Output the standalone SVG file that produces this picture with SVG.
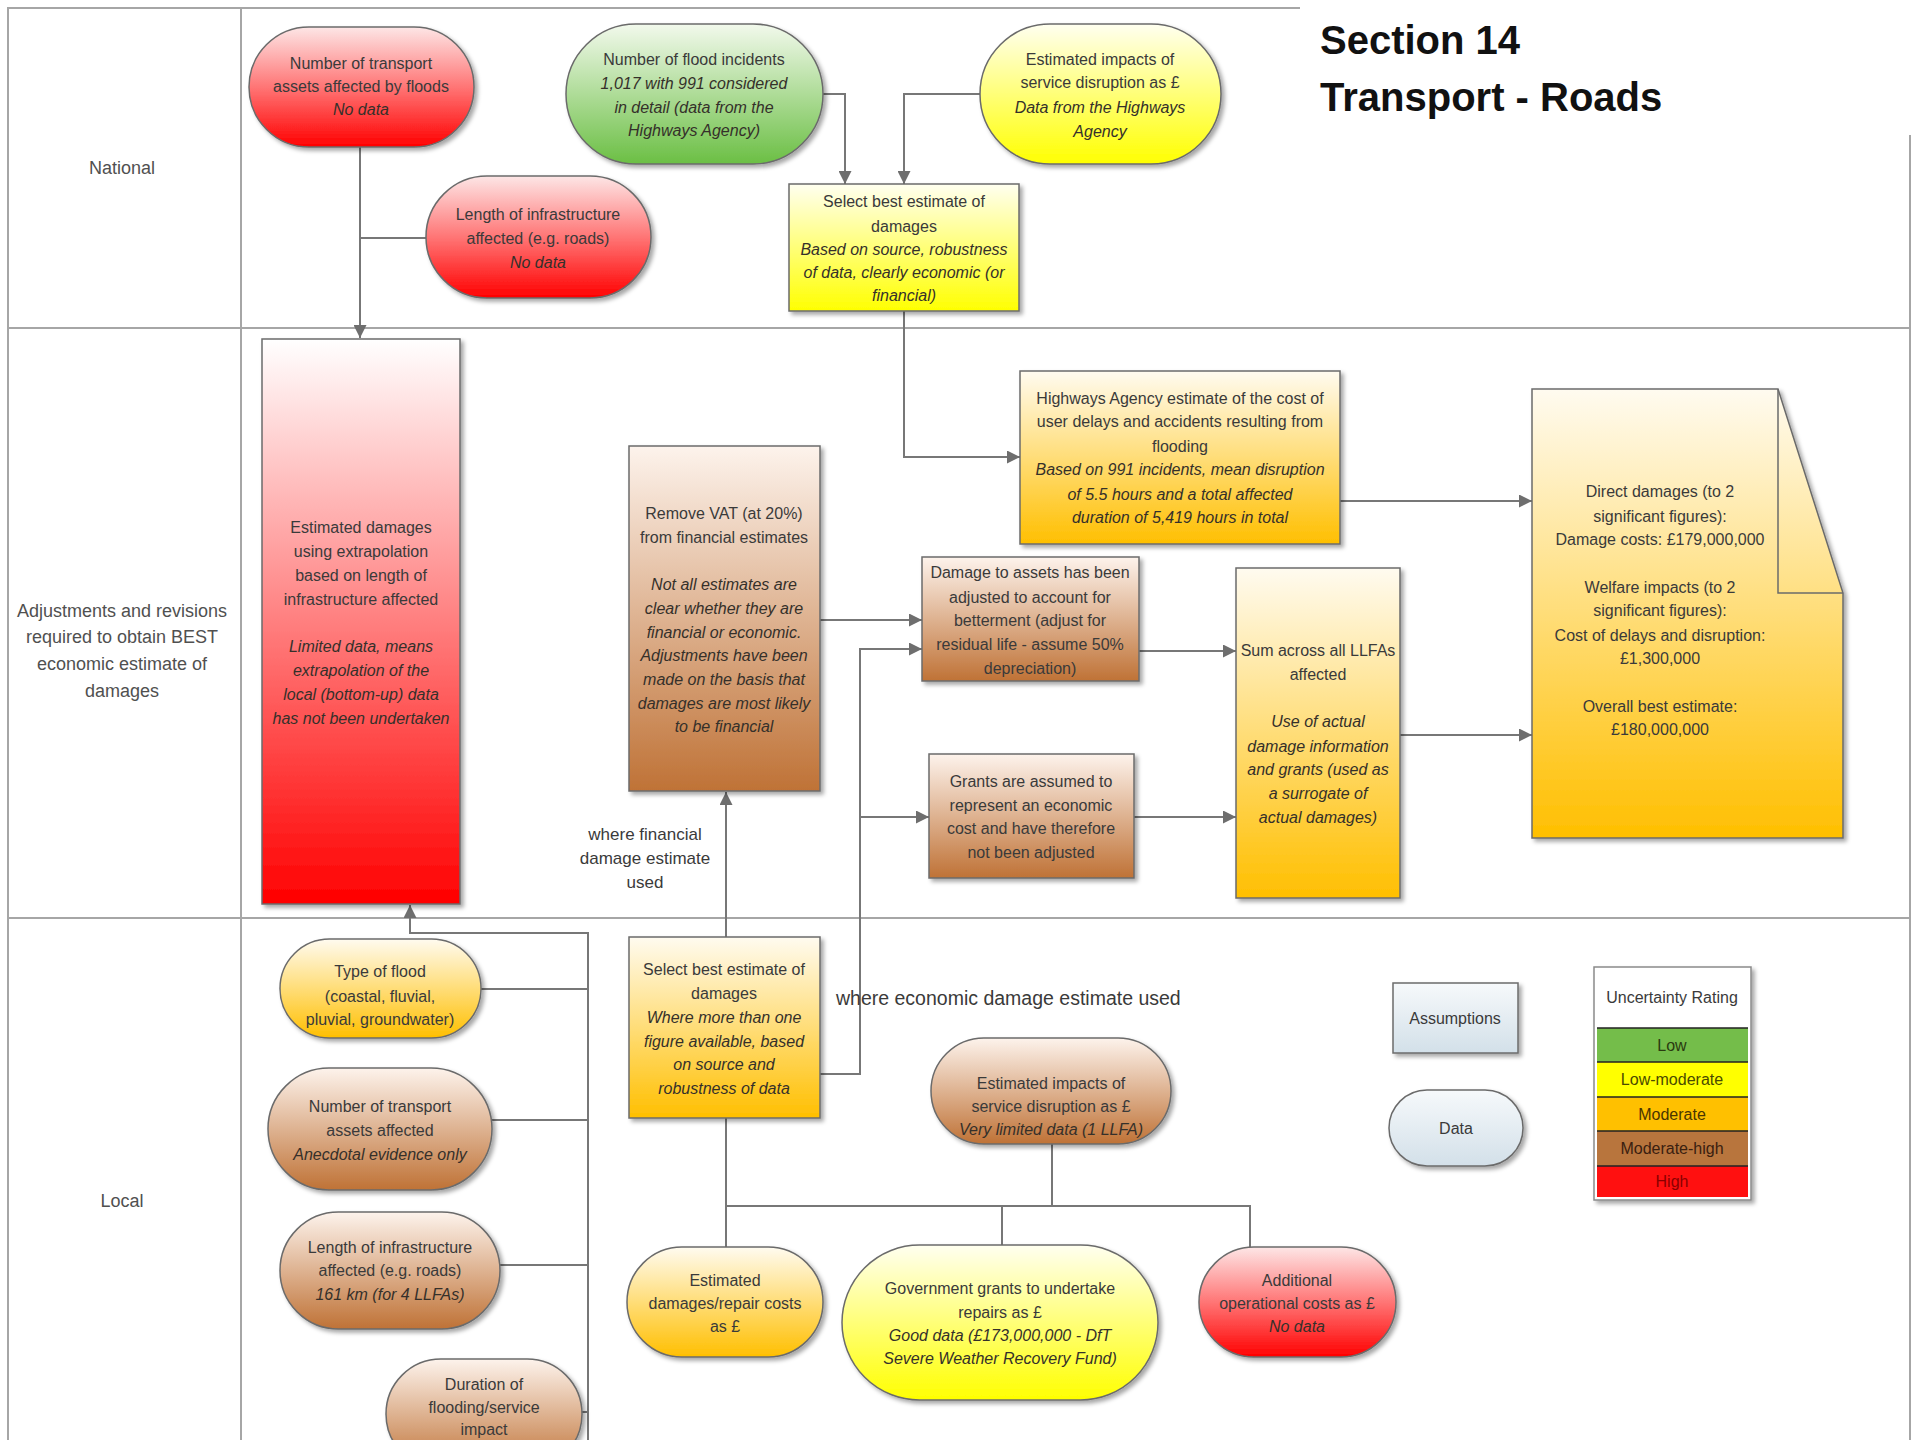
<svg xmlns="http://www.w3.org/2000/svg" width="1920" height="1440" viewBox="0 0 1920 1440">
<style>
.t{font-family:"Liberation Sans",Arial,sans-serif;font-size:16px;fill:#3a3a3a;text-anchor:middle}
.i{font-style:italic;fill:#35302a}
.lbl{font-family:"Liberation Sans",Arial,sans-serif;font-size:18px;fill:#505050;text-anchor:middle}
.node{stroke:#6b6b6b;stroke-width:1.5;filter:url(#sh)}
.red{fill:url(#gRed)}
.tall{fill:url(#gTall)}
.green{fill:url(#gGreen)}
.yellow{fill:url(#gYellow)}
.orange{fill:url(#gOrange)}
.brown{fill:url(#gBrown)}
.leg{fill:url(#gLeg)}
.conn{fill:none;stroke:#777;stroke-width:2}
.arr{marker-end:url(#ah)}
.lane{fill:none;stroke:#a6a6a6;stroke-width:2}
.title{font-family:"Liberation Sans",Arial,sans-serif;font-size:40px;font-weight:bold;fill:#111}
</style>
<defs>
<filter id="sh" x="-10%" y="-10%" width="130%" height="130%">
<feDropShadow dx="3" dy="3" stdDeviation="2" flood-color="#000" flood-opacity="0.35"/>
</filter>
<linearGradient id="gRed" x1="0" y1="0" x2="0" y2="1"><stop offset="0" stop-color="#fde6e6"/><stop offset="0.55" stop-color="#ff6a6a"/><stop offset="1" stop-color="#ff0000"/></linearGradient>
<linearGradient id="gTall" x1="0" y1="0" x2="0" y2="1"><stop offset="0" stop-color="#ffffff"/><stop offset="0.5" stop-color="#ff7f7f"/><stop offset="1" stop-color="#ff0000"/></linearGradient>
<linearGradient id="gGreen" x1="0" y1="0" x2="0" y2="1"><stop offset="0" stop-color="#f2f9ec"/><stop offset="1" stop-color="#6bbf44"/></linearGradient>
<linearGradient id="gYellow" x1="0" y1="0" x2="0" y2="1"><stop offset="0" stop-color="#fffff0"/><stop offset="1" stop-color="#ffff00"/></linearGradient>
<linearGradient id="gOrange" x1="0" y1="0" x2="0" y2="1"><stop offset="0" stop-color="#fffbf0"/><stop offset="1" stop-color="#ffbf00"/></linearGradient>
<linearGradient id="gBrown" x1="0" y1="0" x2="0" y2="1"><stop offset="0" stop-color="#fdf3ec"/><stop offset="1" stop-color="#bf7236"/></linearGradient>
<linearGradient id="gLeg" x1="0" y1="0" x2="0" y2="1"><stop offset="0" stop-color="#f6f9fb"/><stop offset="1" stop-color="#d3e0e9"/></linearGradient>
<marker id="ah" viewBox="0 0 12 12" refX="12" refY="6" markerWidth="13" markerHeight="13" markerUnits="userSpaceOnUse" orient="auto">
<path d="M0,0 L12,6 L0,12 Z" fill="#6e6e6e"/>
</marker>
</defs>
<rect width="1920" height="1440" fill="#ffffff"/>

<g id="lanes">
<path class="lane" d="M8,1440 V8 H1300"/>
<path class="lane" d="M241,8 V1440"/>
<path class="lane" d="M1910,135 V1440"/>
<path class="lane" d="M8,328 H1910"/>
<path class="lane" d="M8,918 H1910"/>
<text class="lbl" x="122" y="174">National</text>
<text class="lbl" x="122" y="617">Adjustments and revisions</text>
<text class="lbl" x="122" y="643">required to obtain BEST</text>
<text class="lbl" x="122" y="670">economic estimate of</text>
<text class="lbl" x="122" y="697">damages</text>
<text class="lbl" x="122" y="1207">Local</text>
</g>

<g id="title">
<text class="title" x="1320" y="54">Section 14</text>
<text class="title" x="1320" y="111">Transport - Roads</text>
</g>

<g id="connectors">
<path class="conn arr" d="M360,147 V338"/>
<path class="conn" d="M426,238 H360"/>
<path class="conn arr" d="M823,94 H845 V184"/>
<path class="conn arr" d="M980,94 H904 V184"/>
<path class="conn arr" d="M904,311 V457 H1020"/>
<path class="conn arr" d="M1340,501 H1532"/>
<path class="conn arr" d="M820,620 H922"/>
<path class="conn arr" d="M820,1074 H860 V649 H922"/>
<path class="conn arr" d="M860,817 H929"/>
<path class="conn arr" d="M1139,651 H1236"/>
<path class="conn arr" d="M1134,817 H1236"/>
<path class="conn arr" d="M1400,735 H1532"/>
<path class="conn arr" d="M726,937 V792"/>
<path class="conn arr" d="M588,1440 V933 H410 V905"/>
<path class="conn" d="M481,989 H588"/>
<path class="conn" d="M492,1120 H588"/>
<path class="conn" d="M500,1265 H588"/>
<path class="conn" d="M582,1412 H588"/>
<path class="conn" d="M726,1118 V1247"/>
<path class="conn" d="M726,1206 H1250 V1248"/>
<path class="conn" d="M1002,1206 V1245"/>
<path class="conn" d="M1052,1144 V1206"/>
<text class="t" x="645" y="840" style="font-size:17px">where financial</text>
<text class="t" x="645" y="864" style="font-size:17px">damage estimate</text>
<text class="t" x="645" y="888" style="font-size:17px">used</text>
<text class="t" x="836" y="1005" style="font-size:19.5px;text-anchor:start">where economic damage estimate used</text>
</g>

<g id="n_nat_assets">
<rect class="node red" x="249" y="27" width="225" height="120" rx="60"/>
<text class="t" x="361" y="69">Number of transport</text>
<text class="t" x="361" y="92">assets affected by floods</text>
<text class="t i" x="361" y="115">No data</text>
</g>

<g id="n_flood_incidents">
<rect class="node green" x="566" y="24" width="257" height="140" rx="70"/>
<text class="t" x="694" y="65">Number of flood incidents</text>
<text class="t i" x="694" y="89">1,017 with 991 considered</text>
<text class="t i" x="694" y="113">in detail (data from the</text>
<text class="t i" x="694" y="136">Highways Agency)</text>
</g>

<g id="n_nat_disruption">
<rect class="node yellow" x="980" y="24" width="241" height="140" rx="70"/>
<text class="t" x="1100" y="65">Estimated impacts of</text>
<text class="t" x="1100" y="88">service disruption as £</text>
<text class="t i" x="1100" y="113">Data from the Highways</text>
<text class="t i" x="1100" y="137">Agency</text>
</g>

<g id="n_nat_length">
<rect class="node red" x="426" y="176" width="225" height="122" rx="61"/>
<text class="t" x="538" y="220">Length of infrastructure</text>
<text class="t" x="538" y="244">affected (e.g. roads)</text>
<text class="t i" x="538" y="268">No data</text>
</g>

<g id="n_nat_select">
<rect class="node yellow" x="789" y="184" width="230" height="127"/>
<text class="t" x="904" y="207">Select best estimate of</text>
<text class="t" x="904" y="232">damages</text>
<text class="t i" x="904" y="255">Based on source, robustness</text>
<text class="t i" x="904" y="278">of data, clearly economic (or</text>
<text class="t i" x="904" y="301">financial)</text>
</g>

<g id="n_extrapolation">
<rect class="node tall" x="262" y="339" width="198" height="565"/>
<text class="t" x="361" y="533">Estimated damages</text>
<text class="t" x="361" y="557">using extrapolation</text>
<text class="t" x="361" y="581">based on length of</text>
<text class="t" x="361" y="605">infrastructure affected</text>
<text class="t i" x="361" y="652">Limited data, means</text>
<text class="t i" x="361" y="676">extrapolation of the</text>
<text class="t i" x="361" y="700">local (bottom-up) data</text>
<text class="t i" x="361" y="724">has not been undertaken</text>
</g>

<g id="n_vat">
<rect class="node brown" x="629" y="446" width="191" height="345"/>
<text class="t" x="724" y="519">Remove VAT (at 20%)</text>
<text class="t" x="724" y="543">from financial estimates</text>
<text class="t i" x="724" y="590">Not all estimates are</text>
<text class="t i" x="724" y="614">clear whether they are</text>
<text class="t i" x="724" y="638">financial or economic.</text>
<text class="t i" x="724" y="661">Adjustments have been</text>
<text class="t i" x="724" y="685">made on the basis that</text>
<text class="t i" x="724" y="709">damages are most likely</text>
<text class="t i" x="724" y="732">to be financial</text>
</g>

<g id="n_highways">
<rect class="node orange" x="1020" y="371" width="320" height="173"/>
<text class="t" x="1180" y="404">Highways Agency estimate of the cost of</text>
<text class="t" x="1180" y="427">user delays and accidents resulting from</text>
<text class="t" x="1180" y="452">flooding</text>
<text class="t i" x="1180" y="475">Based on 991 incidents, mean disruption</text>
<text class="t i" x="1180" y="500">of 5.5 hours and a total affected</text>
<text class="t i" x="1180" y="523">duration of 5,419 hours in total</text>
</g>

<g id="n_betterment">
<rect class="node brown" x="922" y="557" width="217" height="124"/>
<text class="t" x="1030" y="578">Damage to assets has been</text>
<text class="t" x="1030" y="603">adjusted to account for</text>
<text class="t" x="1030" y="626">betterment (adjust for</text>
<text class="t" x="1030" y="650">residual life - assume 50%</text>
<text class="t" x="1030" y="674">depreciation)</text>
</g>

<g id="n_grants_assumed">
<rect class="node brown" x="929" y="754" width="205" height="124"/>
<text class="t" x="1031" y="787">Grants are assumed to</text>
<text class="t" x="1031" y="811">represent an economic</text>
<text class="t" x="1031" y="834">cost and have therefore</text>
<text class="t" x="1031" y="858">not been adjusted</text>
</g>

<g id="n_sum">
<rect class="node orange" x="1236" y="568" width="164" height="330"/>
<text class="t" x="1318" y="656">Sum across all LLFAs</text>
<text class="t" x="1318" y="680">affected</text>
<text class="t i" x="1318" y="727">Use of actual</text>
<text class="t i" x="1318" y="752">damage information</text>
<text class="t i" x="1318" y="775">and grants (used as</text>
<text class="t i" x="1318" y="799">a surrogate of</text>
<text class="t i" x="1318" y="823">actual damages)</text>
</g>

<g id="n_result">
<path class="node orange" d="M1532,389 H1778 L1843,593 V838 H1532 Z"/>
<path d="M1778,389 V593 H1843" fill="none" stroke="#6b6b6b" stroke-width="1.5"/>
<text class="t" x="1660" y="497">Direct damages (to 2</text>
<text class="t" x="1660" y="522">significant figures):</text>
<text class="t" x="1660" y="545">Damage costs:  £179,000,000</text>
<text class="t" x="1660" y="593">Welfare impacts (to 2</text>
<text class="t" x="1660" y="616">significant figures):</text>
<text class="t" x="1660" y="641">Cost of delays and disruption:</text>
<text class="t" x="1660" y="664">£1,300,000</text>
<text class="t" x="1660" y="712">Overall best estimate:</text>
<text class="t" x="1660" y="735">£180,000,000</text>
</g>

<g id="n_flood_type">
<rect class="node orange" x="280" y="939" width="201" height="99" rx="49.5"/>
<text class="t" x="380" y="977">Type of flood</text>
<text class="t" x="380" y="1002">(coastal, fluvial,</text>
<text class="t" x="380" y="1025">pluvial, groundwater)</text>
</g>

<g id="n_local_assets">
<rect class="node brown" x="268" y="1068" width="224" height="122" rx="61"/>
<text class="t" x="380" y="1112">Number of transport</text>
<text class="t" x="380" y="1136">assets affected</text>
<text class="t i" x="380" y="1160">Anecdotal evidence only</text>
</g>

<g id="n_local_length">
<rect class="node brown" x="280" y="1212" width="220" height="117" rx="58.5"/>
<text class="t" x="390" y="1253">Length of infrastructure</text>
<text class="t" x="390" y="1276">affected (e.g. roads)</text>
<text class="t i" x="390" y="1300">161 km (for 4 LLFAs)</text>
</g>

<g id="n_duration">
<rect class="node brown" x="386" y="1359" width="196" height="110" rx="55"/>
<text class="t" x="484" y="1390">Duration of</text>
<text class="t" x="484" y="1413">flooding/service</text>
<text class="t" x="484" y="1435">impact</text>
</g>

<g id="n_local_select">
<rect class="node orange" x="629" y="937" width="191" height="181"/>
<text class="t" x="724" y="975">Select best estimate of</text>
<text class="t" x="724" y="999">damages</text>
<text class="t i" x="724" y="1023">Where more than one</text>
<text class="t i" x="724" y="1047">figure available, based</text>
<text class="t i" x="724" y="1070">on source and</text>
<text class="t i" x="724" y="1094">robustness of data</text>
</g>

<g id="n_local_disruption">
<rect class="node brown" x="931" y="1038" width="240" height="106" rx="53"/>
<text class="t" x="1051" y="1089">Estimated impacts of</text>
<text class="t" x="1051" y="1112">service disruption as £</text>
<text class="t i" x="1051" y="1135">Very limited data (1 LLFA)</text>
</g>

<g id="n_repair_costs">
<rect class="node orange" x="627" y="1247" width="196" height="110" rx="55"/>
<text class="t" x="725" y="1286">Estimated</text>
<text class="t" x="725" y="1309">damages/repair costs</text>
<text class="t" x="725" y="1332">as £</text>
</g>

<g id="n_gov_grants">
<rect class="node yellow" x="842" y="1245" width="316" height="155" rx="77.5"/>
<text class="t" x="1000" y="1294">Government grants to undertake</text>
<text class="t" x="1000" y="1318">repairs as £</text>
<text class="t i" x="1000" y="1341">Good data (£173,000,000 - DfT</text>
<text class="t i" x="1000" y="1364">Severe Weather Recovery Fund)</text>
</g>

<g id="n_operational">
<rect class="node red" x="1199" y="1247" width="197" height="110" rx="55"/>
<text class="t" x="1297" y="1286">Additional</text>
<text class="t" x="1297" y="1309">operational costs as £</text>
<text class="t i" x="1297" y="1332">No data</text>
</g>

<g id="legend_assumptions">
<rect class="node leg" x="1393" y="983" width="125" height="70"/>
<text class="t" x="1455" y="1024">Assumptions</text>
</g>

<g id="legend_data">
<rect class="node leg" x="1389" y="1090" width="134" height="76" rx="38"/>
<text class="t" x="1456" y="1134">Data</text>
</g>

<g id="legend_uncertainty">
<rect x="1594" y="967" width="157" height="233" fill="#fff" stroke="#8a8a8a" stroke-width="1.5" filter="url(#sh)"/>
<rect x="1597" y="1028" width="151" height="34" fill="#74bd4a"/>
<rect x="1597" y="1062" width="151" height="35" fill="#ffff00"/>
<rect x="1597" y="1097" width="151" height="34" fill="#ffc000"/>
<rect x="1597" y="1131" width="151" height="35" fill="#b8753d"/>
<rect x="1597" y="1166" width="151" height="31" fill="#ff1010"/>
<path d="M1597,1028 H1748 M1597,1062 H1748 M1597,1097 H1748 M1597,1131 H1748 M1597,1166 H1748" stroke="#222" stroke-width="1.5"/>
<text class="t" x="1672" y="1003">Uncertainty Rating</text>
<text class="t" x="1672" y="1051" style="fill:#2a3a10">Low</text>
<text class="t" x="1672" y="1085" style="fill:#4a4a00">Low-moderate</text>
<text class="t" x="1672" y="1120" style="fill:#4a3500">Moderate</text>
<text class="t" x="1672" y="1154" style="fill:#3a2010">Moderate-high</text>
<text class="t" x="1672" y="1187" style="fill:#8a0000">High</text>
</g>
</svg>
